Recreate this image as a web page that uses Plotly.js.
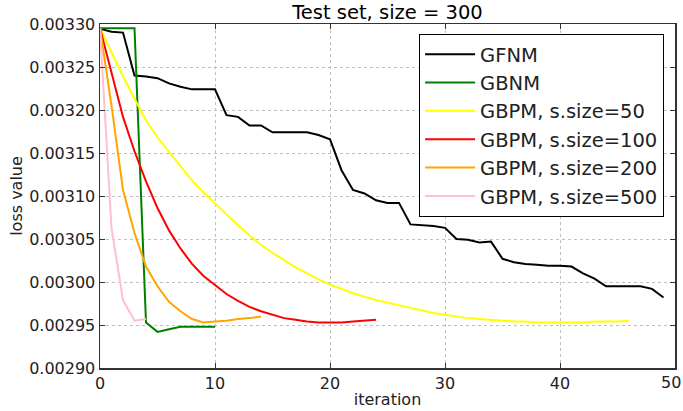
<!DOCTYPE html>
<html>
<head>
<meta charset="utf-8">
<script src="https://cdn.plot.ly/plotly-3.0.1.min.js"></script>
<style>html,body{margin:0;padding:0;background:#fff;}#chart{width:683px;height:411px;}</style>
</head>
<body>
<div id="chart"></div>
<script>
const chartTitle = "Test set, size = 300";
const xTitle = "iteration";
const yTitle = "loss value";
const xTickVals = [0, 10, 20, 30, 40, 50];
const xTickText = ["0", "10", "20", "30", "40", ""];
const xLastTick = "50";
const seriesNames = ["GFNM", "GBNM", "GBPM, s.size=50", "GBPM, s.size=100", "GBPM, s.size=200", "GBPM, s.size=500"];
const seriesColors = ["#000000", "#008000", "#ffff00", "#ff0000", "#ffa500", "#ffc0cb"];

const gfnm = [0.0032945, 0.003291, 0.003290, 0.003240, 0.003239, 0.003237, 0.003231, 0.003227, 0.003224, 0.003224,
  0.003224, 0.003194, 0.003192, 0.003182, 0.003182, 0.003174, 0.003174, 0.003174, 0.003174, 0.003171,
  0.003166, 0.003130, 0.003107, 0.003103, 0.003095, 0.003092, 0.003092, 0.003067, 0.003066, 0.003065,
  0.003063, 0.003050, 0.003049, 0.003046, 0.003047, 0.003027, 0.003023, 0.003021, 0.003020, 0.003019,
  0.003019, 0.003018, 0.003010, 0.003004, 0.002995, 0.002995, 0.002995, 0.002995, 0.002992, 0.002982];
const gbnm = [0.003295, 0.003295, 0.003295, 0.003295, 0.002953, 0.002942, 0.002945, 0.002948, 0.002948, 0.002948, 0.002948];
const gbpm50 = [0.003295, 0.003266, 0.003239, 0.003213, 0.003188, 0.003168, 0.003151, 0.003134, 0.003118, 0.003104,
  0.003091, 0.003078, 0.003066, 0.003054, 0.003043, 0.003034, 0.003025, 0.003017, 0.003010, 0.003003,
  0.002997, 0.002992, 0.002987, 0.002983, 0.002979, 0.002976, 0.002973, 0.002970, 0.002967, 0.002964,
  0.002962, 0.002960, 0.002958, 0.002957, 0.002956, 0.002955, 0.002954, 0.002954, 0.002953, 0.002953,
  0.002953, 0.002953, 0.002953, 0.002954, 0.002954, 0.002954, 0.002955];
const gbpm100 = [0.003295, 0.003243, 0.003192, 0.003152, 0.003117, 0.003086, 0.003060, 0.003039, 0.003021, 0.003007,
  0.002996, 0.002986, 0.002978, 0.002971, 0.002966, 0.002962, 0.002958, 0.002956, 0.002954, 0.002953,
  0.002953, 0.002953, 0.002954, 0.002955, 0.002956];
const gbpm200 = [0.003295, 0.003205, 0.003107, 0.003057, 0.003018, 0.002995, 0.002977, 0.002966, 0.002957, 0.002953,
  0.002954, 0.002955, 0.002957, 0.002958, 0.002960];
const gbpm500 = [0.003295, 0.003063, 0.002979, 0.002955, 0.002957];

const allSeries = [gfnm, gbnm, gbpm50, gbpm100, gbpm200, gbpm500];

const traces = allSeries.map((ys, i) => ({
  type: "scatter",
  mode: "lines",
  name: seriesNames[i],
  x: ys.map((_, k) => k),
  y: ys,
  line: {color: seriesColors[i], width: 2}
}));

const font = "DejaVu Sans, Liberation Sans, sans-serif";
const axisCommon = {
  showline: true, linecolor: "#333", linewidth: 1.5, mirror: "ticks",
  ticks: "inside", ticklen: 5, tickcolor: "#333", tickwidth: 1,
  showgrid: true, gridcolor: "#c0c0c0", griddash: "dot", gridwidth: 1,
  zeroline: false, tickfont: {family: font, size: 16, color: "#222"}
};

const layout = {
  width: 683, height: 411,
  margin: {l: 100, r: 8, t: 24, b: 43},
  paper_bgcolor: "#fff", plot_bgcolor: "#fff",
  font: {family: font, color: "#222"},
  title: {text: chartTitle, font: {family: font, size: 19.5, color: "#000"}, x: 0.5, xref: "paper", y: 0.97, yref: "container", yanchor: "middle"},
  xaxis: Object.assign({}, axisCommon, {
    range: [0, 50], tickmode: "array", tickvals: xTickVals, ticktext: xTickText,
    title: {text: xTitle, font: {family: font, size: 16, color: "#222"}, standoff: 2}
  }),
  yaxis: Object.assign({}, axisCommon, {
    range: [0.0029, 0.0033], dtick: 0.00005, tick0: 0.0029, tickformat: ".5f",
    title: {text: yTitle, font: {family: font, size: 16, color: "#222"}, standoff: 2}
  }),
  annotations: [{
    text: xLastTick, xref: "x", x: xTickVals[xTickVals.length - 1], xanchor: "right", xshift: 8,
    yref: "paper", y: 0, yanchor: "middle", yshift: -14, showarrow: false,
    font: {family: font, size: 16, color: "#222"}
  }],
  showlegend: true,
  legend: {
    x: 0.981, xanchor: "right", y: 0.971, yanchor: "top",
    bgcolor: "#fff", bordercolor: "#000", borderwidth: 1,
    font: {family: font, size: 19.5, color: "#222"},
    itemwidth: 50, entrywidth: 240, entrywidthmode: "pixels"
  }
};

Plotly.newPlot("chart", traces, layout, {displayModeBar: false, staticPlot: true});
</script>
</body>
</html>
